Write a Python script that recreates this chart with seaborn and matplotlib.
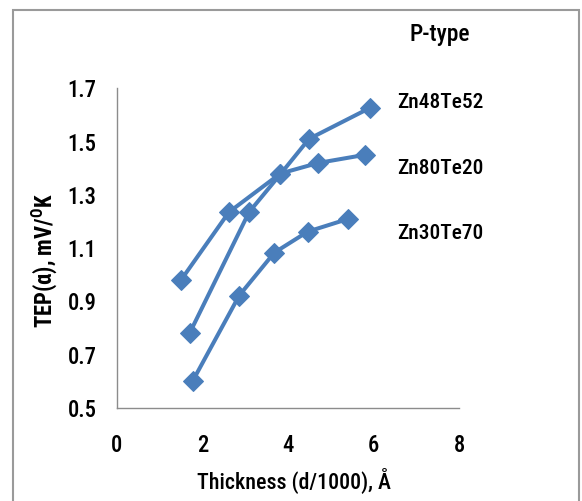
import os
import matplotlib
matplotlib.use("Agg")
import matplotlib.pyplot as plt
from matplotlib import font_manager as fm
import seaborn as sns
import pandas as pd
from matplotlib.patches import Rectangle

# ---- data ----
zn48_x = [1.70, 3.09, 3.82, 4.49, 5.92]
zn48_y = [0.78, 1.235, 1.377, 1.51, 1.627]
zn80_x = [1.50, 2.62, 3.82, 4.71, 5.79]
zn80_y = [0.98, 1.235, 1.38, 1.42, 1.45]
zn30_x = [1.77, 2.86, 3.68, 4.46, 5.41]
zn30_y = [0.60, 0.922, 1.083, 1.162, 1.21]
series_names = ["Zn48Te52", "Zn80Te20", "Zn30Te70"]
x_ticks = [0, 2, 4, 6, 8]
y_ticks = [0.5, 0.7, 0.9, 1.1, 1.3, 1.5, 1.7]

rows = []
for name, xs, ys in zip(series_names, [zn48_x, zn80_x, zn30_x], [zn48_y, zn80_y, zn30_y]):
    for xv, yv in zip(xs, ys):
        rows.append({"series": name, "x": xv, "y": yv})
df = pd.DataFrame(rows)

sns.set_theme(style="white")
plt.rcParams["font.family"] = ["DejaVu Sans"]
plt.rcParams["text.color"] = "black"

# ---- pick a narrow font if one is installed ----
files = {os.path.basename(f.fname): f.fname for f in fm.fontManager.ttflist}
candidates = [
    (["LiberationSansNarrow-Regular.ttf"], "LiberationSansNarrow-Bold.ttf", 0.74),
    (["RobotoCondensed-Medium.ttf", "RobotoCondensed-Regular.ttf"], "RobotoCondensed-Bold.ttf", 0.80),
    (["DejaVuSansCondensed.ttf"], "DejaVuSansCondensed-Bold.ttf", 0.90),
]
reg_fp = bold_fp = None
ratio = 1.0
for regs, b, q in candidates:
    found = [r for r in regs if r in files]
    if found:
        reg_fp = fm.FontProperties(fname=files[found[0]])
        bold_fp = fm.FontProperties(fname=files[b]) if b in files else fm.FontProperties(fname=files[found[0]], weight="bold")
        ratio = q
        break
if reg_fp is None:
    reg_fp = fm.FontProperties(family="DejaVu Sans")
    bold_fp = fm.FontProperties(family="DejaVu Sans", weight="bold")


def fp(base, size):
    p = base.copy()
    p.set_size(min(size / ratio, 17.0))
    return p


BLUE = "#4A7EBB"
GREY = "#8C8C8C"

fig = plt.figure(figsize=(5.82, 5.01), dpi=100)
W, H = 582, 501
ax = fig.add_axes([116.7 / W, (H - 408) / H, (459.3 - 116.7) / W, (408 - 88.3) / H])

sns.lineplot(data=df, x="x", y="y", hue="series", palette=[BLUE] * 3,
             marker="D", markersize=10, markeredgecolor=BLUE, linewidth=2.9,
             sort=False, legend=False, ax=ax, estimator=None)

ax.set_xlim(0, 8)
ax.set_ylim(0.5, 1.7)
ax.set_xticks(x_ticks)
ax.set_xticklabels([str(t) for t in x_ticks])
ax.set_yticks(y_ticks)
ax.set_yticklabels([f"{t:.1f}" for t in y_ticks])

for s in ["top", "right"]:
    ax.spines[s].set_visible(False)
for s in ["left", "bottom"]:
    ax.spines[s].set_color(GREY)
    ax.spines[s].set_linewidth(1.0)

ax.tick_params(axis="both", which="major", direction="out", color=GREY,
               width=1.0, labelcolor="black")
ax.tick_params(axis="y", length=4.5, pad=10)
ax.tick_params(axis="x", length=6, pad=13)
tick_fp = fp(reg_fp, 13.0)
for lab in ax.get_xticklabels() + ax.get_yticklabels():
    lab.set_fontproperties(tick_fp)
    lab.set_color("black")

ax.set_xlabel("Thickness (d/1000), Å", fontproperties=fp(reg_fp, 12.6), color="black")
ax.set_ylabel(r"TEP(α), mV/$^{\mathregular{O}}$K", fontproperties=fp(bold_fp, 13.0), color="black")
ax.xaxis.set_label_coords((294.2 - 116.7) / 342.6, (408 - 481) / 319.7)
ax.yaxis.set_label_coords((44 - 116.7) / 342.6, (408 - 260) / 319.7)
ax.xaxis.label.set_va("center")
ax.yaxis.label.set_va("center")

# series labels and title text
label_y = [103, 168, 233]
for name, yy in zip(series_names, label_y):
    fig.text(397 / W, 1 - yy / H, name, fontproperties=fp(reg_fp, 12.3),
             ha="left", va="center", color="black")
fig.text(439.5 / W, 1 - 34 / H, "P-type", fontproperties=fp(reg_fp, 13.5),
         ha="center", va="center", color="black")

# chart border
fig.patches.append(Rectangle((13 / W, -0.05), (579 - 13) / W, 1.05 - 10.5 / H,
                             transform=fig.transFigure, fill=False,
                             edgecolor="#9A9A9A", linewidth=1.5))

fig.savefig("out.png", dpi=100)
